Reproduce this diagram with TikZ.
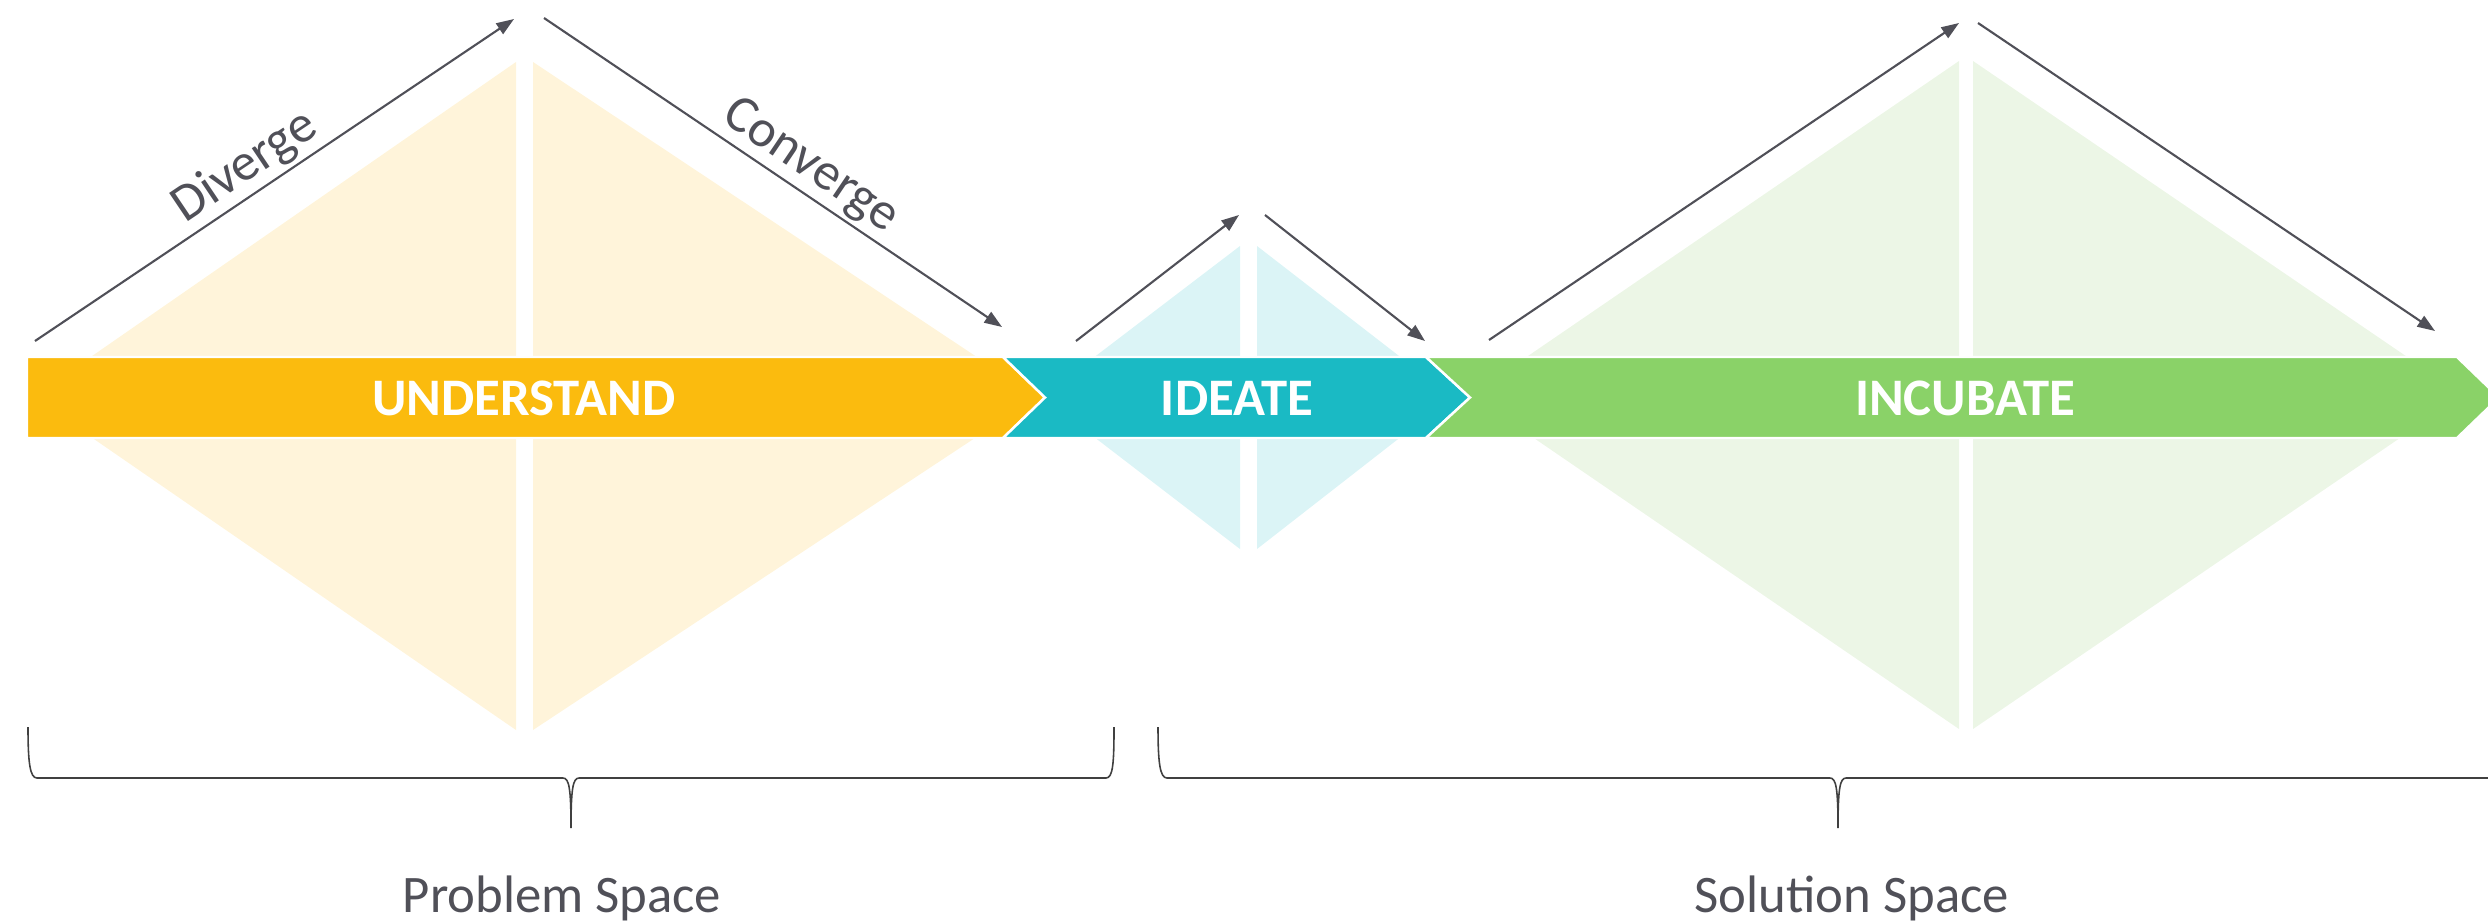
\documentclass[tikz,border=0pt]{standalone}
\usepackage{fontspec}
\setmainfont{Carlito}
\usetikzlibrary{arrows.meta}
\definecolor{understandcol}{RGB}{251,187,14}
\definecolor{ideatecol}{RGB}{26,186,196}
\definecolor{incubatecol}{RGB}{138,210,104}
\definecolor{understandlt}{RGB}{255,244,218}
\definecolor{ideatelt}{RGB}{219,244,246}
\definecolor{incubatelt}{RGB}{236,246,230}
\definecolor{arrowgray}{RGB}{80,80,88}
\definecolor{bracegray}{RGB}{64,64,64}
\begin{document}
\begin{tikzpicture}[x=0.01cm,y=0.01cm,
  phase/.style={draw=white,line width=0.7pt},
  phaselabel/.style={text=white,font=\fontsize{15}{18}\selectfont\bfseries},
  flow/.style={draw=arrowgray,line width=0.6pt,-{Triangle[length=5pt,width=3.6pt]}},
  flowlabel/.style={text=arrowgray,font=\fontsize{15}{18}\selectfont,sloped,above,inner sep=1pt},
  spacebrace/.style={draw=bracegray,line width=0.45pt},
  spacelabel/.style={text=arrowgray,font=\fontsize{15}{18}\selectfont,anchor=base}]
  \useasboundingbox (0,0) rectangle (2488,923);
  %diamonds, two halves each
  \fill[understandlt] (516,861) -- (33,526) -- (516,193) -- cycle;
  \fill[understandlt] (533,861) -- (1037,526) -- (533,193) -- cycle;
  \fill[ideatelt] (1240,677) -- (1042,526) -- (1240,374) -- cycle;
  \fill[ideatelt] (1257,677) -- (1452,526) -- (1257,374) -- cycle;
  \fill[incubatelt] (1959,862) -- (1471,528) -- (1959,194) -- cycle;
  \fill[incubatelt] (1973,862) -- (2463,528) -- (1973,194) -- cycle;
  %chevrons
  \filldraw[phase,fill=understandcol] (27,566) -- (1003,566) -- (1045,525.5)
  -- (1003,485) -- (27,485) -- cycle;
  \filldraw[phase,fill=ideatecol] (1003,566) -- (1426,566) -- (1470,525.5)
  -- (1426,485) -- (1003,485) -- (1045,525.5) -- cycle;
  \filldraw[phase,fill=incubatecol] (1426,566) -- (2457,566) -- (2499,525.5)
  -- (2457,485) -- (1426,485) -- (1470,525.5) -- cycle;
  \node[phaselabel] (understand) at (524,525) {UNDERSTAND};
  \node[phaselabel] (ideate) at (1237,525) {IDEATE};
  \node[phaselabel] (incubate) at (1965,525) {INCUBATE};
  %arrows
  \coordinate (ua) at (35,582);
  \coordinate (ub) at (514,904);
  \coordinate (uc) at (544,905);
  \coordinate (ud) at (1002,596);
  \coordinate (ia) at (1076,582);
  \coordinate (ib) at (1239,708);
  \coordinate (ic) at (1265,708);
  \coordinate (id) at (1425,582);
  \coordinate (na) at (1489,583);
  \coordinate (nb) at (1959,900);
  \coordinate (nc) at (1978,900);
  \coordinate (nd) at (2435,592);
  \draw[flow] (ua) -- node[flowlabel,pos=0.47] (diverge) {Diverge} (ub);
  \draw[flow] (uc) -- node[flowlabel,pos=0.55] (converge) {Converge} (ud);
  \draw[flow] (ia) -- (ib);
  \draw[flow] (ic) -- (id);
  \draw[flow] (na) -- (nb);
  \draw[flow] (nc) -- (nd);
  %braces
  \draw[spacebrace] (28,196) .. controls (28,160) and (30,145) .. (37,145) -- (563,145)
  .. controls (569,145) and (571,135) .. (571,95)
  .. controls (571,135) and (573,145) .. (579,145) -- (1106,145)
  .. controls (1113,145) and (1114,160) .. (1114,196);
  \draw[spacebrace] (1158,196) .. controls (1158,160) and (1160,145) .. (1167,145) -- (1830,145)
  .. controls (1836,145) and (1838,135) .. (1838,95)
  .. controls (1838,135) and (1840,145) .. (1846,145) -- (2510,145)
  .. controls (2517,145) and (2518,160) .. (2518,196);
  \node[spacelabel] (problem) at (562,11) {Problem Space};
  \node[spacelabel] (solution) at (1852,11) {Solution Space};
\end{tikzpicture}
\end{document}
